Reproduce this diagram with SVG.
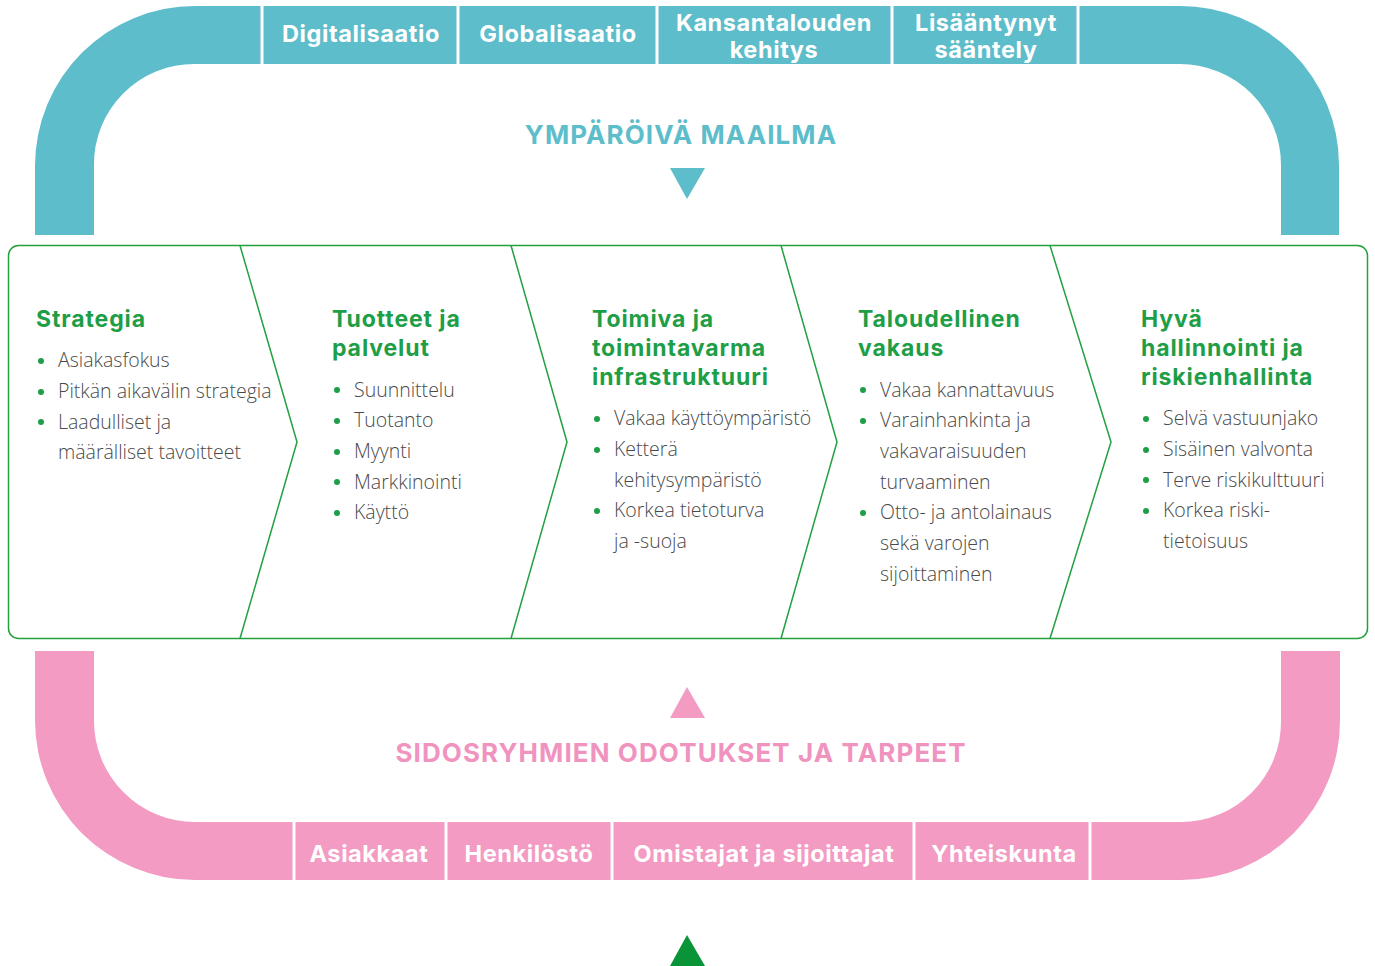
<svg xmlns="http://www.w3.org/2000/svg" width="1375" height="966" viewBox="0 0 1375 966">
<style>
.band-b{fill:#5ebdca}
.band-p{fill:#f39bc3}
.sep{stroke:#fff;stroke-width:3}
.bt{font-family:Inter,"Open Sans",sans-serif;font-weight:700;font-size:23.5px;fill:#fff;text-anchor:middle;letter-spacing:0.6px}
.title{font-family:Inter,"Open Sans",sans-serif;font-weight:700;font-size:26px;text-anchor:middle;letter-spacing:1.1px}
.h{font-family:Inter,"Open Sans",sans-serif;font-weight:700;font-size:23px;fill:#1e9e46;letter-spacing:0.9px}
.t{font-family:"Open Sans",Lato,sans-serif;font-weight:300;font-size:19.5px;fill:#4a4a4a}
.dot{fill:#1e9e46}
.chev{fill:none;stroke:#23a040;stroke-width:1.5}
</style>
<g id="ymparoiva">
<path class="band-b" d="M35 235 V166 A160 160 0 0 1 195 6 H1180 A159 159 0 0 1 1339 165 V235 H1281 V165 A101 101 0 0 0 1180 64 H195 A100 100 0 0 0 94 166 V235 Z"/>
<g class="sep"><line x1="262" y1="5" x2="262" y2="66"/><line x1="458" y1="5" x2="458" y2="66"/><line x1="657" y1="5" x2="657" y2="66"/><line x1="892" y1="5" x2="892" y2="66"/><line x1="1078" y1="5" x2="1078" y2="66"/></g>
<text class="bt" x="361" y="42">Digitalisaatio</text>
<text class="bt" x="558" y="42">Globalisaatio</text>
<text class="bt" x="774" y="31">Kansantalouden</text>
<text class="bt" x="774" y="58">kehitys</text>
<text class="bt" x="986" y="31">Lisääntynyt</text>
<text class="bt" x="986" y="58">sääntely</text>
<text class="title" x="681" y="144" fill="#5ebdca">YMPÄRÖIVÄ MAAILMA</text>
<polygon points="670,168 705,168 687,199" fill="#5ebdca"/>
</g>
<g id="sidosryhmat">
<path class="band-p" d="M35 651 V720 A160 160 0 0 0 195 880 H1181 A159 159 0 0 0 1340 721 V651 H1281 V721 A100 100 0 0 1 1181 822 H195 A101 101 0 0 1 94 720 V651 Z"/>
<g class="sep"><line x1="294" y1="821" x2="294" y2="881"/><line x1="446" y1="821" x2="446" y2="881"/><line x1="612" y1="821" x2="612" y2="881"/><line x1="914" y1="821" x2="914" y2="881"/><line x1="1090" y1="821" x2="1090" y2="881"/></g>
<text class="bt" x="369" y="862">Asiakkaat</text>
<text class="bt" x="529" y="862">Henkilöstö</text>
<text class="bt" x="764" y="862">Omistajat ja sijoittajat</text>
<text class="bt" x="1004" y="862">Yhteiskunta</text>
<text class="title" x="681" y="762" fill="#f093bf">SIDOSRYHMIEN ODOTUKSET JA TARPEET</text>
<polygon points="670,718 705,718 687,687" fill="#f39bc3"/>
</g>
<g id="connectors">
<rect x="8.5" y="245.5" width="1359" height="393" rx="10" class="chev"/>
<polyline class="chev" points="240,245.5 297,442 240,638.5"/>
<polyline class="chev" points="511,245.5 567,442 511,638.5"/>
<polyline class="chev" points="781,245.5 837,442 781,638.5"/>
<polyline class="chev" points="1050,245.5 1111,442 1050,638.5"/>
<polygon points="670,966 705,966 687,935" fill="#0a9438"/>
</g>
<g id="strategia">
<text class="h" x="36" y="327">Strategia</text>
<circle class="dot" cx="41" cy="361" r="3"/><text class="t" x="58" y="367">Asiakasfokus</text>
<circle class="dot" cx="41" cy="392" r="3"/><text class="t" x="58" y="398">Pitkän aikavälin strategia</text>
<circle class="dot" cx="41" cy="422" r="3"/><text class="t" x="58" y="429">Laadulliset ja</text>
<text class="t" x="58" y="459">määrälliset tavoitteet</text>
</g>
<g id="tuotteet">
<text class="h" x="332" y="327">Tuotteet ja</text>
<text class="h" x="332" y="356">palvelut</text>
<circle class="dot" cx="337" cy="390" r="3"/><text class="t" x="354" y="397">Suunnittelu</text>
<circle class="dot" cx="337" cy="421" r="3"/><text class="t" x="354" y="427">Tuotanto</text>
<circle class="dot" cx="337" cy="452" r="3"/><text class="t" x="354" y="458">Myynti</text>
<circle class="dot" cx="337" cy="482" r="3"/><text class="t" x="354" y="489">Markkinointi</text>
<circle class="dot" cx="337" cy="513" r="3"/><text class="t" x="354" y="519">Käyttö</text>
</g>
<g id="infrastruktuuri">
<text class="h" x="592" y="327">Toimiva ja</text>
<text class="h" x="592" y="356">toimintavarma</text>
<text class="h" x="592" y="385">infrastruktuuri</text>
<circle class="dot" cx="597" cy="419" r="3"/><text class="t" x="614" y="425">Vakaa käyttöympäristö</text>
<circle class="dot" cx="597" cy="450" r="3"/><text class="t" x="614" y="456">Ketterä</text>
<text class="t" x="614" y="487">kehitysympäristö</text>
<circle class="dot" cx="597" cy="511" r="3"/><text class="t" x="614" y="517">Korkea tietoturva</text>
<text class="t" x="614" y="548">ja -suoja</text>
</g>
<g id="talous">
<text class="h" x="858" y="327">Taloudellinen</text>
<text class="h" x="858" y="356">vakaus</text>
<circle class="dot" cx="863" cy="390" r="3"/><text class="t" x="880" y="397">Vakaa kannattavuus</text>
<circle class="dot" cx="863" cy="421" r="3"/><text class="t" x="880" y="427">Varainhankinta ja</text>
<text class="t" x="880" y="458">vakavaraisuuden</text>
<text class="t" x="880" y="489">turvaaminen</text>
<circle class="dot" cx="863" cy="513" r="3"/><text class="t" x="880" y="519">Otto- ja antolainaus</text>
<text class="t" x="880" y="550">sekä varojen</text>
<text class="t" x="880" y="581">sijoittaminen</text>
</g>
<g id="hallinnointi">
<text class="h" x="1141" y="327">Hyvä</text>
<text class="h" x="1141" y="356">hallinnointi ja</text>
<text class="h" x="1141" y="385">riskienhallinta</text>
<circle class="dot" cx="1146" cy="419" r="3"/><text class="t" x="1163" y="425">Selvä vastuunjako</text>
<circle class="dot" cx="1146" cy="450" r="3"/><text class="t" x="1163" y="456">Sisäinen valvonta</text>
<circle class="dot" cx="1146" cy="480" r="3"/><text class="t" x="1163" y="487">Terve riskikulttuuri</text>
<circle class="dot" cx="1146" cy="511" r="3"/><text class="t" x="1163" y="517">Korkea riski-</text>
<text class="t" x="1163" y="548">tietoisuus</text>
</g>
</svg>
